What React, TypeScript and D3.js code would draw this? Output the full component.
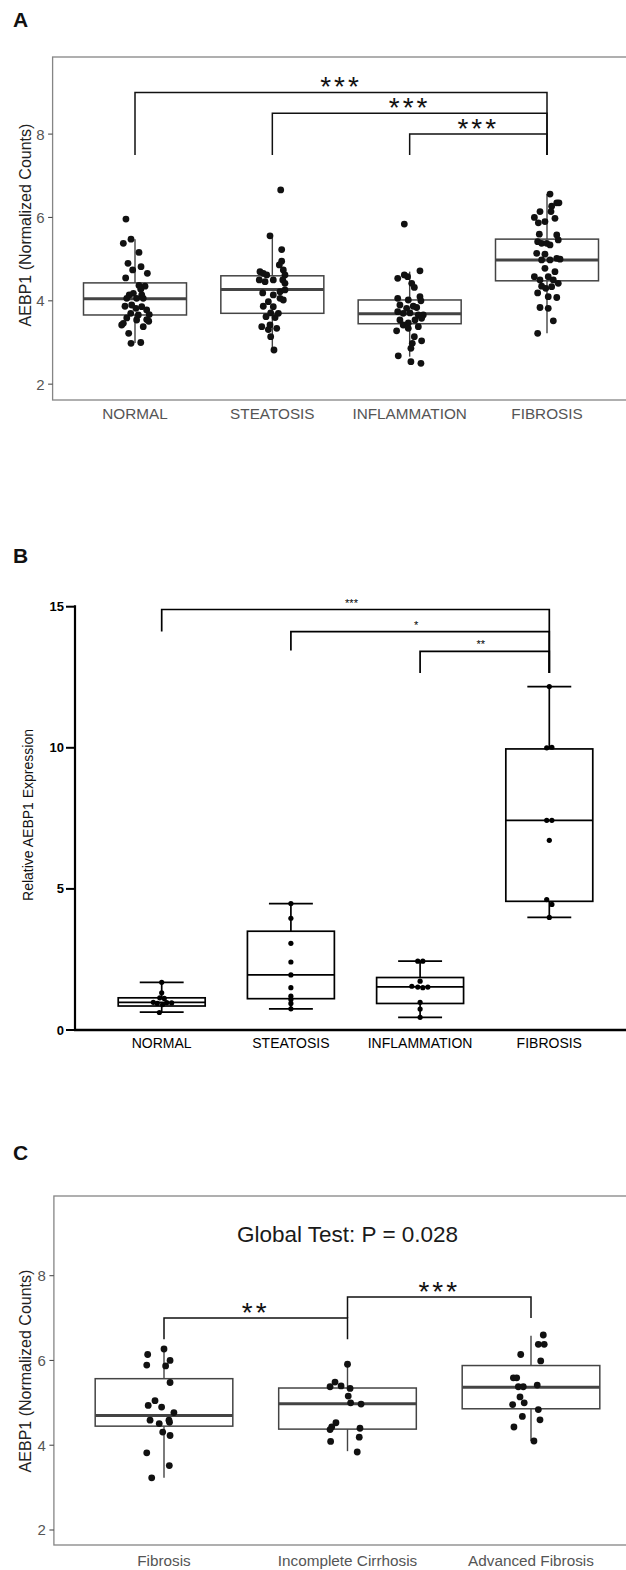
import { useEffect, useRef } from "react";
import * as d3 from "d3";

const FONT = "'Liberation Sans', Arial, Helvetica, sans-serif";

// ---- Panel A: AEBP1 normalized counts by histology ----
const groupsA = ["NORMAL", "STEATOSIS", "INFLAMMATION", "FIBROSIS"];
const lowA = [2.99, 2.85, 2.66, 3.22];
const q1A = [3.66, 3.7, 3.45, 4.48];
const medA = [4.05, 4.27, 3.69, 4.98];
const q3A = [4.43, 4.6, 4.02, 5.48];
const highA = [5.48, 5.55, 4.7, 6.56];
// [value, jitter (category units)]
const pointsA: [number, number][][] = [
  [
    [5.96, -0.066], [5.48, -0.029], [5.38, -0.085], [5.16, 0.029], [4.9, -0.051], [4.82, 0.044],
    [4.74, -0.017], [4.66, 0.09], [4.55, -0.068], [4.37, 0.029], [4.35, 0.073], [4.28, 0.042],
    [4.14, -0.042], [4.18, -0.012], [4.06, -0.06], [4.14, 0.049], [4.06, 0.012], [4.06, 0.06],
    [3.87, -0.073], [3.9, -0.024], [3.86, 0.049], [3.82, 0.007], [3.78, 0.085], [3.7, -0.031],
    [3.66, 0.024], [3.67, 0.104], [3.59, -0.06], [3.54, 0.012], [3.55, 0.085], [3.46, -0.085],
    [3.51, 0.1], [3.42, -0.097], [3.38, 0.06], [3.22, -0.046], [2.98, -0.029], [3.0, 0.042],
  ],
  [
    [6.66, 0.061], [5.56, -0.017], [5.23, 0.068], [4.95, 0.068], [4.86, 0.051], [4.7, -0.09],
    [4.66, -0.066], [4.62, -0.041], [4.74, 0.08], [4.62, 0.092], [4.5, -0.095], [4.46, -0.053],
    [4.5, 0.007], [4.5, 0.076], [4.42, 0.092], [4.19, -0.07], [4.22, 0.056], [4.26, 0.092],
    [4.14, 0.007], [4.06, 0.056], [3.98, -0.029], [4.02, 0.08], [3.87, -0.066], [3.86, 0.007],
    [3.71, -0.012], [3.7, 0.044], [3.62, -0.046], [3.6, 0.02], [3.38, -0.077], [3.42, -0.017],
    [3.34, 0.032], [3.31, -0.029], [3.14, -0.012], [2.82, 0.012],
  ],
  [
    [5.84, -0.039], [4.72, 0.075], [4.54, -0.087], [4.62, -0.039], [4.58, -0.015], [4.42, 0.015],
    [4.32, 0.034], [4.06, -0.087], [4.02, -0.01], [4.1, 0.075], [4.0, 0.082], [3.9, -0.071],
    [3.82, -0.022], [3.87, 0.026], [3.84, 0.051], [3.74, -0.087], [3.7, -0.047], [3.71, 0.002],
    [3.66, 0.099], [3.66, 0.063], [3.54, -0.071], [3.47, -0.01], [3.54, 0.039], [3.58, 0.087],
    [3.42, -0.047], [3.38, 0.063], [3.28, -0.095], [3.34, -0.01], [3.14, 0.034], [3.04, 0.087],
    [2.98, 0.019], [2.86, 0.009], [2.68, -0.083], [2.54, 0.009], [2.5, 0.082],
  ],
  [
    [6.56, 0.022], [6.35, 0.071], [6.27, 0.034], [6.35, 0.087], [6.14, -0.051], [6.0, -0.092],
    [6.14, 0.029], [5.87, -0.063], [5.9, -0.015], [5.98, 0.058], [5.6, -0.056], [5.58, 0.071],
    [5.42, -0.068], [5.38, -0.039], [5.38, -0.002], [5.34, 0.022], [5.46, 0.082], [5.14, -0.075],
    [5.12, -0.015], [4.98, -0.039], [4.98, 0.022], [5.02, 0.071], [5.0, 0.095], [4.78, -0.015],
    [4.7, 0.058], [4.58, 0.009], [4.58, -0.092], [4.5, -0.051], [4.5, 0.046], [4.35, -0.039],
    [4.42, 0.082], [4.3, -0.009], [4.34, 0.034], [4.19, -0.068], [4.1, 0.009], [4.08, 0.071],
    [3.84, -0.051], [3.82, 0.009], [3.52, 0.046], [3.22, -0.068],
  ],
];
// [from, to, bar y, left leg end, right leg end, label]
const bracketsA: [number, number, number, number, number, string][] = [
  [0, 3, 9.0, 7.5, 7.5, "***"],
  [1, 3, 8.5, 7.5, 7.5, "***"],
  [2, 3, 8.0, 7.5, 7.5, "***"],
];
const ticksA = [2, 4, 6, 8];

// ---- Panel B: relative AEBP1 expression (qPCR) ----
const groupsB = ["NORMAL", "STEATOSIS", "INFLAMMATION", "FIBROSIS"];
const lowB = [0.63, 0.75, 0.45, 3.99];
const q1B = [0.85, 1.11, 0.94, 4.56];
const medB = [0.98, 1.95, 1.53, 7.43];
const q3B = [1.14, 3.5, 1.86, 9.96];
const highB = [1.69, 4.48, 2.44, 12.17];
const pointsB: [number, number][][] = [
  [[1.69, 0], [1.32, 0], [1.14, -0.015], [1.12, 0.02], [0.98, -0.065], [0.94, -0.034],
   [0.9, 0.007], [0.97, 0.039], [0.96, 0.077], [0.62, -0.018]],
  [[4.48, 0], [3.96, 0], [3.07, 0], [2.41, 0], [1.95, 0], [1.5, 0], [1.2, 0], [1.08, 0],
   [0.94, 0], [0.75, 0]],
  [[2.44, -0.018], [2.44, 0.021], [1.73, 0], [1.55, -0.064], [1.52, -0.018], [1.5, 0.021],
   [1.52, 0.06], [0.98, 0], [0.74, 0], [0.45, 0]],
  [[12.17, 0], [10.0, -0.02], [10.02, 0.02], [7.43, -0.02], [7.43, 0.02], [6.72, 0],
   [4.62, -0.02], [4.45, 0.02], [3.99, 0]],
];
const bracketsB: [number, number, number, number, number, string][] = [
  [0, 3, 14.9, 14.12, 12.65, "***"],
  [1, 3, 14.12, 13.45, 12.65, "*"],
  [2, 3, 13.42, 12.65, 12.65, "**"],
];
const ticksB = [0, 5, 10, 15];

// ---- Panel C: fibrosis stages ----
const groupsC = ["Fibrosis", "Incomplete Cirrhosis", "Advanced Fibrosis"];
const lowC = [3.23, 3.86, 4.1];
const q1C = [4.45, 4.38, 4.86];
const medC = [4.7, 4.98, 5.37];
const q3C = [5.57, 5.35, 5.88];
const highC = [6.27, 5.91, 6.58];
const pointsC: [number, number][][] = [
  [
    [6.27, 0], [6.14, -0.089], [6.0, 0.033], [5.89, -0.094], [5.87, 0.009], [5.48, 0.033],
    [5.05, -0.049], [4.94, -0.086], [4.9, -0.013], [4.77, 0.054], [4.59, -0.076], [4.59, 0.027],
    [4.51, -0.026], [4.54, 0.03], [4.31, -0.007], [4.23, 0.033], [3.82, -0.094], [3.52, 0.029],
    [3.23, -0.067],
  ],
  [
    [5.91, 0], [5.49, -0.068], [5.38, -0.095], [5.4, -0.035], [5.34, 0.014], [5.16, 0.004],
    [5.0, 0.017], [4.97, 0.074], [4.53, -0.063], [4.43, -0.086], [4.37, -0.095], [4.4, 0.068],
    [4.09, -0.092], [4.19, 0.064], [3.84, 0.053],
  ],
  [
    [6.6, 0.067], [6.38, 0.04], [6.38, 0.072], [6.14, -0.056], [5.99, 0.053], [5.59, -0.096],
    [5.59, -0.078], [5.38, -0.069], [5.38, -0.042], [5.42, 0.034], [5.14, -0.06], [5.0, -0.037],
    [4.96, -0.1], [4.84, 0.04], [4.68, -0.047], [4.6, 0.049], [4.43, -0.093], [4.1, 0.016],
  ],
];
const bracketsC: [number, number, number, number, number, string][] = [
  [0, 1, 7.0, 6.5, 6.5, "**"],
  [1, 2, 7.5, 7.0, 7.0, "***"],
];
const ticksC = [2, 4, 6, 8];

type Sel = d3.Selection<SVGGElement, unknown, null, undefined>;

// ggplot-like panel (theme_bw without grid)
function drawGgPanel(
  g: Sel,
  cfg: {
    groups: string[];
    low: number[]; q1: number[]; med: number[]; q3: number[]; high: number[];
    points: [number, number][][];
    brackets: [number, number, number, number, number, string][];
    ticks: number[];
    x: d3.ScaleLinear<number, number>;
    y: d3.ScaleLinear<number, number>;
    ylabel: string;
    ylabelY: number;
    xlabelOffset: number;
    title?: string;
  }
) {
  const { x, y, groups } = cfg;
  const [x0, x1] = x.range();
  const [yb, yt] = y.range();
  const unit = x(2) - x(1);
  const boxW = 0.75 * unit;

  g.append("rect")
    .attr("x", x0).attr("y", yt)
    .attr("width", x1 - x0).attr("height", yb - yt)
    .attr("fill", "none").attr("stroke", "#858585").attr("stroke-width", 1.3);

  // y ticks
  cfg.ticks.forEach((t) => {
    g.append("line")
      .attr("x1", x0 - 4.5).attr("x2", x0)
      .attr("y1", y(t)).attr("y2", y(t))
      .attr("stroke", "#4d4d4d").attr("stroke-width", 1.1);
    g.append("text")
      .attr("x", x0 - 8).attr("y", y(t))
      .attr("text-anchor", "end").attr("dominant-baseline", "central")
      .attr("font-size", 15).attr("fill", "#555")
      .text(t);
  });

  g.append("text")
    .attr("transform", `translate(25,${cfg.ylabelY}) rotate(-90)`)
    .attr("text-anchor", "middle").attr("dominant-baseline", "central")
    .attr("font-size", 16).attr("fill", "#222")
    .text(cfg.ylabel);

  groups.forEach((name, i) => {
    const cx = x(i + 1);
    g.append("text")
      .attr("x", cx).attr("y", yb + cfg.xlabelOffset)
      .attr("text-anchor", "middle")
      .attr("font-size", 15.3).attr("fill", "#555")
      .text(name);

    // whiskers
    g.append("line")
      .attr("x1", cx).attr("x2", cx)
      .attr("y1", y(cfg.q3[i])).attr("y2", y(cfg.high[i]))
      .attr("stroke", "#444").attr("stroke-width", 1.4);
    g.append("line")
      .attr("x1", cx).attr("x2", cx)
      .attr("y1", y(cfg.q1[i])).attr("y2", y(cfg.low[i]))
      .attr("stroke", "#444").attr("stroke-width", 1.4);
    g.append("rect")
      .attr("x", cx - boxW / 2).attr("y", y(cfg.q3[i]))
      .attr("width", boxW).attr("height", y(cfg.q1[i]) - y(cfg.q3[i]))
      .attr("fill", "white").attr("stroke", "#444").attr("stroke-width", 1.5);
    g.append("line")
      .attr("x1", cx - boxW / 2).attr("x2", cx + boxW / 2)
      .attr("y1", y(cfg.med[i])).attr("y2", y(cfg.med[i]))
      .attr("stroke", "#444").attr("stroke-width", 3);

    g.append("g")
      .selectAll("circle")
      .data(cfg.points[i])
      .join("circle")
      .attr("cx", (d) => x(i + 1 + d[1]))
      .attr("cy", (d) => y(d[0]))
      .attr("r", 3.4)
      .attr("fill", "#111");
  });

  cfg.brackets.forEach(([a, b, bar, legA, legB, label]) => {
    const path = d3.path();
    path.moveTo(x(a + 1), y(legA));
    path.lineTo(x(a + 1), y(bar));
    path.lineTo(x(b + 1), y(bar));
    path.lineTo(x(b + 1), y(legB));
    g.append("path")
      .attr("d", path.toString())
      .attr("fill", "none").attr("stroke", "#111").attr("stroke-width", 1.5);
    g.append("text")
      .attr("x", (x(a + 1) + x(b + 1)) / 2).attr("y", y(bar) + 4)
      .attr("text-anchor", "middle")
      .attr("font-size", 28).attr("letter-spacing", 3).attr("fill", "#111")
      .text(label);
  });

  if (cfg.title) {
    g.append("text")
      .attr("x", x(2)).attr("y", yt + 45.5)
      .attr("text-anchor", "middle")
      .attr("font-size", 22.5).attr("fill", "#1a1a1a")
      .text(cfg.title);
  }
}

// GraphPad-style panel
function drawPrismPanel(g: Sel) {
  const x = d3.scaleLinear().domain([1, 4]).range([161.7, 549.3]);
  const y = d3.scaleLinear().domain([0, 15]).range([1030, 606.7]);
  const unit = x(2) - x(1);
  const boxW = 0.673 * unit;
  const capW = 0.34 * unit;

  g.append("line")
    .attr("x1", 75).attr("x2", 75).attr("y1", y(15) - 1.5).attr("y2", y(0) + 1)
    .attr("stroke", "#000").attr("stroke-width", 2.2);
  g.append("line")
    .attr("x1", 74).attr("x2", 640).attr("y1", y(0)).attr("y2", y(0))
    .attr("stroke", "#000").attr("stroke-width", 2.5);

  ticksB.forEach((t) => {
    g.append("line")
      .attr("x1", 66).attr("x2", 75).attr("y1", y(t)).attr("y2", y(t))
      .attr("stroke", "#000").attr("stroke-width", 2);
    g.append("text")
      .attr("x", 64).attr("y", y(t))
      .attr("text-anchor", "end").attr("dominant-baseline", "central")
      .attr("font-size", 13).attr("font-weight", "bold").attr("fill", "#000")
      .text(t);
  });

  g.append("text")
    .attr("transform", `translate(27.5,815) rotate(-90)`)
    .attr("text-anchor", "middle").attr("dominant-baseline", "central")
    .attr("font-size", 14).attr("fill", "#111")
    .text("Relative AEBP1 Expression");

  groupsB.forEach((name, i) => {
    const cx = x(i + 1);
    g.append("text")
      .attr("x", cx).attr("y", 1048)
      .attr("text-anchor", "middle")
      .attr("font-size", 14).attr("fill", "#000")
      .text(name);

    const stroke = (sel: d3.Selection<any, unknown, null, undefined>) =>
      sel.attr("stroke", "#000").attr("stroke-width", 1.7).attr("fill", "none");

    g.append("line").attr("x1", cx).attr("x2", cx)
      .attr("y1", y(q3B[i])).attr("y2", y(highB[i])).call(stroke);
    g.append("line").attr("x1", cx).attr("x2", cx)
      .attr("y1", y(q1B[i])).attr("y2", y(lowB[i])).call(stroke);
    g.append("line").attr("x1", cx - capW / 2).attr("x2", cx + capW / 2)
      .attr("y1", y(highB[i])).attr("y2", y(highB[i])).call(stroke);
    g.append("line").attr("x1", cx - capW / 2).attr("x2", cx + capW / 2)
      .attr("y1", y(lowB[i])).attr("y2", y(lowB[i])).call(stroke);
    g.append("rect")
      .attr("x", cx - boxW / 2).attr("y", y(q3B[i]))
      .attr("width", boxW).attr("height", y(q1B[i]) - y(q3B[i]))
      .call(stroke);
    g.append("line").attr("x1", cx - boxW / 2).attr("x2", cx + boxW / 2)
      .attr("y1", y(medB[i])).attr("y2", y(medB[i])).call(stroke);

    g.append("g")
      .selectAll("circle")
      .data(pointsB[i])
      .join("circle")
      .attr("cx", (d) => x(i + 1 + d[1]))
      .attr("cy", (d) => y(d[0]))
      .attr("r", 2.6)
      .attr("fill", "#000");
  });

  bracketsB.forEach(([a, b, bar, legA, legB, label]) => {
    const path = d3.path();
    path.moveTo(x(a + 1), y(legA));
    path.lineTo(x(a + 1), y(bar));
    path.lineTo(x(b + 1), y(bar));
    path.lineTo(x(b + 1), y(legB));
    g.append("path")
      .attr("d", path.toString())
      .attr("fill", "none").attr("stroke", "#000").attr("stroke-width", 1.7);
    g.append("text")
      .attr("x", (x(a + 1) + x(b + 1)) / 2 - 4).attr("y", y(bar) - 3)
      .attr("text-anchor", "middle")
      .attr("font-size", 11).attr("fill", "#000")
      .text(label);
  });
}

export default function App() {
  const svgRef = useRef<SVGSVGElement>(null);

  useEffect(() => {
    if (!svgRef.current) return;
    const svg = d3.select(svgRef.current);
    svg.selectAll("*").remove();
    svg.style("font-family", FONT);

    const labels: [string, number][] = [["A", 27], ["B", 563], ["C", 1160]];
    labels.forEach(([t, yy]) => {
      svg.append("text")
        .attr("x", 13).attr("y", yy)
        .attr("font-size", 21).attr("font-weight", "bold").attr("fill", "#111")
        .text(t);
    });

    // Panel A
    const xA = d3.scaleLinear().domain([0.4, 4.6]).range([52.6, 629.4]);
    const yA = d3.scaleLinear().domain([1.62, 9.85]).range([400, 57]);
    drawGgPanel(svg.append("g"), {
      groups: groupsA, low: lowA, q1: q1A, med: medA, q3: q3A, high: highA,
      points: pointsA, brackets: bracketsA, ticks: ticksA,
      x: xA, y: yA,
      ylabel: "AEBP1 (Normalized Counts)", ylabelY: 225, xlabelOffset: 19,
    });

    // Panel B
    drawPrismPanel(svg.append("g"));

    // Panel C
    const xC = d3.scaleLinear().domain([0.4, 3.6]).range([53.9, 641.1]);
    const yC = d3.scaleLinear().domain([1.646, 9.88]).range([1545, 1196]);
    drawGgPanel(svg.append("g"), {
      groups: groupsC, low: lowC, q1: q1C, med: medC, q3: q3C, high: highC,
      points: pointsC, brackets: bracketsC, ticks: ticksC,
      x: xC, y: yC,
      ylabel: "AEBP1 (Normalized Counts)", ylabelY: 1371, xlabelOffset: 20.5,
      title: "Global Test: P = 0.028",
    });
  }, []);

  return (
    <svg
      ref={svgRef}
      width={626}
      height={1570}
      style={{ position: "absolute", left: 0, top: 0, background: "white" }}
    />
  );
}
